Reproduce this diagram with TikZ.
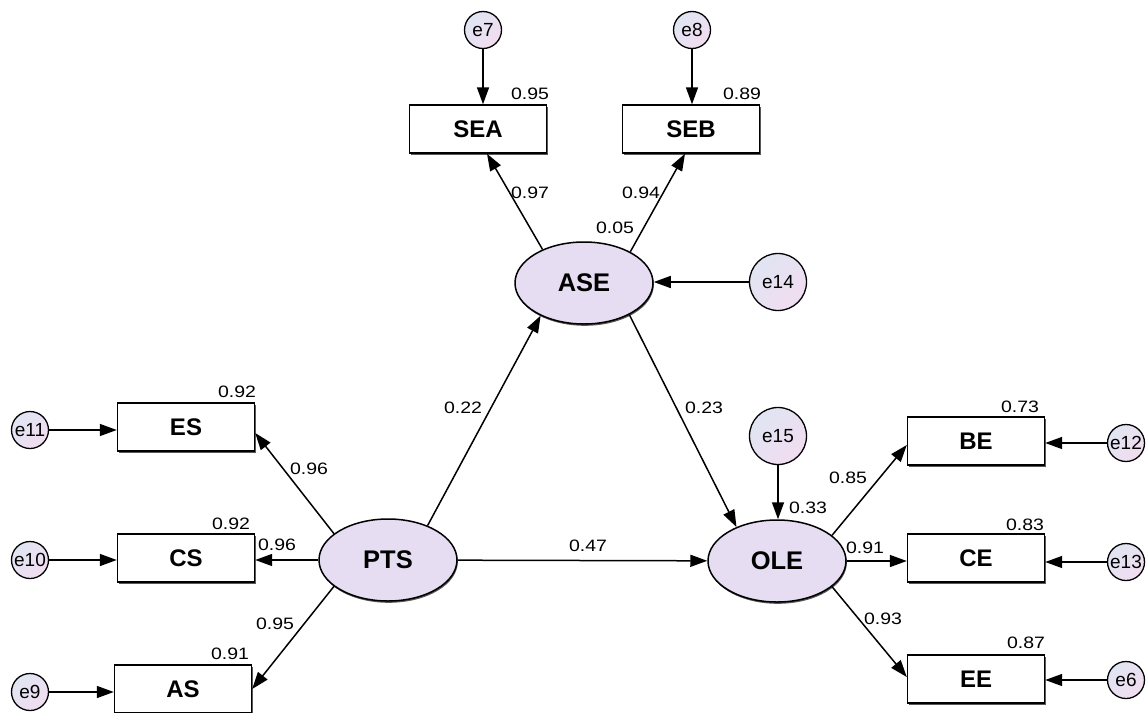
\documentclass[tikz,border=0pt]{standalone}
\usepackage{fontspec}
\setmainfont{Liberation Sans}
\newfontfamily\numfont[FakeStretch=1.18]{Liberation Sans}
\usetikzlibrary{arrows.meta,shapes.geometric,shadows,calc}
\definecolor{latentfill}{HTML}{E6DDF2}
\definecolor{errtop}{HTML}{E0E5F2}
\definecolor{errbot}{HTML}{F1DCF0}
\tikzset{
  obs/.style={rectangle, draw, line width=1.4pt, fill=white, minimum width=137pt, minimum height=48pt, inner sep=0pt,
    font=\fontsize{24}{26}\selectfont\bfseries,
    drop shadow={shadow xshift=1.6pt, shadow yshift=-1.8pt, fill=black!65, opacity=1}},
  lat/.style={ellipse, draw, line width=1.5pt, fill=latentfill, minimum width=138pt, minimum height=82pt, inner sep=0pt,
    font=\fontsize{25.5}{28}\selectfont\bfseries,
    drop shadow={shadow xshift=0.8pt, shadow yshift=-1.8pt, fill=black!65, opacity=1}},
  errs/.style={circle, draw, line width=1.3pt, top color=errtop, bottom color=errbot, shading angle=45,
    minimum size=37pt, inner sep=0pt, font=\fontsize{19}{21}\selectfont},
  errl/.style={errs, minimum size=57pt},
  arr/.style={line width=1.5pt, -{Triangle[length=17pt,width=12pt]}},
  num/.style={inner sep=0pt, font=\numfont\fontsize{16.5}{18}\selectfont}
}
\begin{document}
\begin{tikzpicture}[x=1pt,y=-1pt]
\useasboundingbox (0,0) rectangle (1148,712);
\clip (0,0) rectangle (1148,712);
% observed variables
\node[obs] (SEA) at (478,129) {SEA};
\node[obs] (SEB) at (691,129) {SEB};
\node[obs] (ES) at (186,427) {ES};
\node[obs] (CS) at (186,558) {CS};
\node[obs] (AS) at (183,689) {AS};
\node[obs] (BE) at (976,441) {BE};
\node[obs] (CE) at (976,558) {CE};
\node[obs] (EE) at (976,679) {EE};
% latent variables
\node[lat] (ASE) at (584,283) {ASE};
\node[lat] (PTS) at (388,560) {PTS};
\node[lat] (OLE) at (777,561) {OLE};
% error terms
\node[errs] (e7) at (483,30) {e7};
\node[errs] (e8) at (692,30) {e8};
\node[errl] (e14) at (778,282) {e14};
\node[errl] (e15) at (778,436) {e15};
\node[errs] (e11) at (30,430) {e11};
\node[errs] (e10) at (30,560) {e10};
\node[errs] (e9) at (30,692) {e9};
\node[errs] (e12) at (1126,443) {e12};
\node[errs] (e13) at (1126,562) {e13};
\node[errs] (e6) at (1126,680) {e6};
% connectors
\draw[arr] (e7) -- (e7 |- SEA.north);
\draw[arr] (e8) -- (e8 |- SEB.north);
\draw[arr] (ASE.141) -- ([xshift=9pt]SEA.south);
\draw[arr] (ASE.34) -- ([xshift=-6pt]SEB.south);
\draw[arr] (e14) -- (e14 -| ASE.east);
\draw[arr] (PTS.41) -- (ASE.217);
\draw[arr] (ASE.325) -- (OLE.140);
\draw[arr] (e15) -- (e15 |- OLE.north);
\draw[arr] (PTS) -- (OLE);
\draw[arr] (PTS.154) -- ([yshift=-6pt]ES.east);
\draw[arr] (PTS) -- (PTS -| CS.east);
\draw[arr] (PTS.206) -- (AS.east);
\draw[arr] (e11) -- (e11 -| ES.west);
\draw[arr] (e10) -- (e10 -| CS.west);
\draw[arr] (e9) -- (e9 -| AS.west);
\draw[arr] (OLE.25) -- ([yshift=-4pt]BE.west);
\draw[arr] (OLE) -- (OLE -| CE.west);
\draw[arr] (OLE.335) -- ([yshift=2pt]EE.west);
\draw[arr] (e12) -- (e12 -| BE.east);
\draw[arr] (e13) -- (e13 -| CE.east);
\draw[arr] (e6) -- (e6 -| EE.east);
% labels
\node[num] (l1) at (530,94) {0.95};
\node[num] (l2) at (742,94) {0.89};
\node[num] (l3) at (530,193) {0.97};
\node[num] (l4) at (641,193) {0.94};
\node[num] (l5) at (615,228) {0.05};
\node[num] (l6) at (463,408) {0.22};
\node[num] (l7) at (704,408) {0.23};
\node[num] (l8) at (237,392) {0.92};
\node[num] (l9) at (309,469) {0.96};
\node[num] (l10) at (231,524) {0.92};
\node[num] (l11) at (277,545) {0.96};
\node[num] (l12) at (275,624) {0.95};
\node[num] (l13) at (230,654) {0.91};
\node[num] (l14) at (588,546) {0.47};
\node[num] (l15) at (1020,407) {0.73};
\node[num] (l16) at (848,478) {0.85};
\node[num] (l17) at (808,508) {0.33};
\node[num] (l18) at (1025,525) {0.83};
\node[num] (l19) at (865,548) {0.91};
\node[num] (l20) at (883,619) {0.93};
\node[num] (l21) at (1026,643) {0.87};
\end{tikzpicture}
\end{document}
